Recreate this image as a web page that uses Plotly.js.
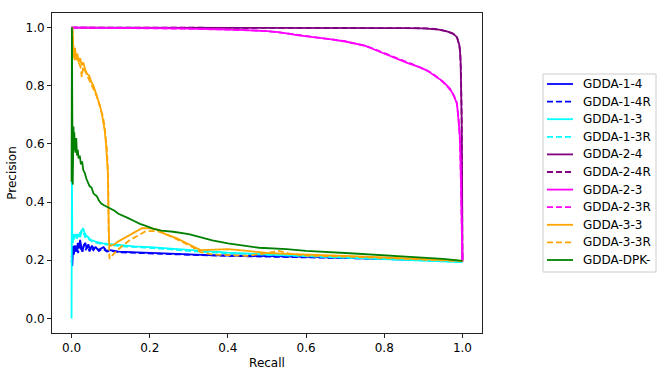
<!DOCTYPE html>
<html>
<head>
<meta charset="utf-8">
<script src="https://cdn.plot.ly/plotly-3.0.1.min.js"></script>
<style>
  body { margin: 0; background: #fff; }
  #plot { width: 665px; height: 378px; }
</style>
</head>
<body>
<div id="plot"></div>
<script>
// Series names, in legend order
const names = ['GDDA-1-4', 'GDDA-1-4R', 'GDDA-1-3', 'GDDA-1-3R', 'GDDA-2-4', 'GDDA-2-4R',
               'GDDA-2-3', 'GDDA-2-3R', 'GDDA-3-3', 'GDDA-3-3R', 'GDDA-DPK-'];

// Recall / precision
const recall14 = [0, 0.002, 0.004, 0.006, 0.008, 0.010, 0.013, 0.016, 0.019, 0.022, 0.025, 0.028, 0.031, 0.035, 0.039, 0.043, 0.047, 0.052, 0.057, 0.062, 0.068, 0.075, 0.082, 0.09, 0.1, 0.12, 0.15, 0.2, 0.25, 0.3, 0.35, 0.4, 0.5, 0.6, 0.7, 0.8, 0.9, 0.95, 1.0];
const prec14 = [0.20, 0.18, 0.25, 0.22, 0.24, 0.25, 0.23, 0.26, 0.24, 0.27, 0.245, 0.23, 0.25, 0.26, 0.24, 0.255, 0.235, 0.25, 0.24, 0.245, 0.235, 0.24, 0.245, 0.232, 0.235, 0.23, 0.228, 0.225, 0.222, 0.22, 0.218, 0.216, 0.214, 0.212, 0.209, 0.206, 0.202, 0.199, 0.196];

const recall14R = [0, 0.003, 0.005, 0.008, 0.011, 0.014, 0.017, 0.020, 0.024, 0.028, 0.032, 0.036, 0.041, 0.046, 0.05, 0.056, 0.062, 0.07, 0.08, 0.09, 0.1, 0.12, 0.15, 0.2, 0.25, 0.3, 0.4, 0.5, 0.6, 0.7, 0.8, 0.9, 1.0];
const prec14R = [0.21, 0.24, 0.22, 0.25, 0.23, 0.245, 0.225, 0.26, 0.24, 0.23, 0.255, 0.235, 0.25, 0.23, 0.245, 0.235, 0.248, 0.232, 0.24, 0.23, 0.233, 0.228, 0.226, 0.223, 0.221, 0.219, 0.215, 0.213, 0.211, 0.208, 0.205, 0.201, 0.196];

const recall13 = [0, 0.001, 0.002, 0.003, 0.005, 0.008, 0.011, 0.014, 0.018, 0.022, 0.026, 0.03, 0.033, 0.037, 0.042, 0.048, 0.055, 0.065, 0.08, 0.1, 0.13, 0.16, 0.2, 0.25, 0.3, 0.35, 0.4, 0.5, 0.6, 0.7, 0.8, 0.9, 1.0];
const prec13 = [0.0, 0.5, 0.26, 0.29, 0.27, 0.29, 0.28, 0.275, 0.29, 0.28, 0.30, 0.31, 0.295, 0.285, 0.28, 0.27, 0.268, 0.262, 0.258, 0.255, 0.25, 0.248, 0.245, 0.24, 0.235, 0.23, 0.226, 0.22, 0.215, 0.21, 0.205, 0.2, 0.194];

const recall13R = [0, 0.002, 0.004, 0.007, 0.01, 0.014, 0.018, 0.022, 0.027, 0.031, 0.035, 0.04, 0.046, 0.053, 0.06, 0.07, 0.085, 0.1, 0.13, 0.17, 0.2, 0.25, 0.3, 0.4, 0.5, 0.6, 0.7, 0.8, 0.9, 1.0];
const prec13R = [0.25, 0.28, 0.26, 0.285, 0.275, 0.29, 0.28, 0.295, 0.305, 0.29, 0.28, 0.285, 0.27, 0.265, 0.262, 0.258, 0.255, 0.252, 0.248, 0.245, 0.243, 0.238, 0.232, 0.224, 0.219, 0.214, 0.209, 0.204, 0.199, 0.194];

const recall24 = [0, 0.1, 0.3, 0.5, 0.7, 0.85, 0.9, 0.92, 0.94, 0.96, 0.975, 0.986, 0.992, 0.995, 0.997, 0.998, 0.999, 0.9995, 1.0];
const prec24 = [1.0, 1.0, 1.0, 1.0, 0.999, 0.998, 0.997, 0.996, 0.993, 0.987, 0.98, 0.967, 0.94, 0.9, 0.8, 0.68, 0.5, 0.3, 0.196];

const recall24R = [0, 0.2, 0.4, 0.6, 0.8, 0.88, 0.91, 0.93, 0.95, 0.965, 0.978, 0.987, 0.993, 0.996, 0.998, 0.999, 1.0];
const prec24R = [1.0, 1.0, 1.0, 0.999, 0.999, 0.998, 0.997, 0.995, 0.99, 0.985, 0.977, 0.963, 0.93, 0.86, 0.7, 0.45, 0.196];

const recall23 = [0, 0.05, 0.1, 0.2, 0.27, 0.35, 0.43, 0.5, 0.53, 0.58, 0.62, 0.66, 0.7, 0.75, 0.79, 0.83, 0.86, 0.89, 0.91, 0.93, 0.95, 0.968, 0.978, 0.986, 0.99, 0.993, 0.995, 0.996, 0.997, 0.998, 1.0];
const prec23 = [1.0, 1.0, 0.999, 0.998, 0.997, 0.995, 0.992, 0.988, 0.984, 0.973, 0.967, 0.96, 0.952, 0.938, 0.916, 0.893, 0.878, 0.864, 0.852, 0.833, 0.815, 0.79, 0.765, 0.738, 0.69, 0.635, 0.55, 0.475, 0.35, 0.25, 0.196];

const recall23R = [0, 0.1, 0.2, 0.3, 0.4, 0.5, 0.55, 0.6, 0.65, 0.7, 0.76, 0.8, 0.84, 0.88, 0.92, 0.94, 0.96, 0.975, 0.985, 0.99, 0.994, 0.996, 0.998, 1.0];
const prec23R = [1.0, 0.999, 0.998, 0.996, 0.993, 0.988, 0.98, 0.97, 0.962, 0.953, 0.934, 0.912, 0.89, 0.87, 0.845, 0.825, 0.8, 0.775, 0.745, 0.69, 0.6, 0.47, 0.3, 0.196];

const recall33 = [0.002, 0.003, 0.005, 0.007, 0.009, 0.012, 0.015, 0.018, 0.022, 0.026, 0.03, 0.035, 0.04, 0.045, 0.05, 0.056, 0.062, 0.068, 0.073, 0.078, 0.082, 0.085, 0.088, 0.091, 0.093, 0.094, 0.095, 0.096, 0.1, 0.11, 0.12, 0.14, 0.16, 0.18, 0.2, 0.22, 0.24, 0.27, 0.3, 0.32, 0.33, 0.35, 0.4, 0.45, 0.5, 0.55, 0.6, 0.7, 0.8, 0.9, 1.0];
const prec33 = [1.0, 0.95, 0.92, 0.9, 0.93, 0.89, 0.91, 0.88, 0.895, 0.87, 0.88, 0.855, 0.84, 0.835, 0.815, 0.8, 0.775, 0.75, 0.73, 0.7, 0.67, 0.645, 0.6, 0.55, 0.5, 0.4, 0.3, 0.257, 0.25, 0.255, 0.265, 0.28, 0.295, 0.31, 0.31, 0.305, 0.29, 0.275, 0.255, 0.24, 0.235, 0.236, 0.238, 0.232, 0.225, 0.222, 0.219, 0.215, 0.21, 0.205, 0.198];

const recall33R = [0.002, 0.004, 0.006, 0.009, 0.012, 0.016, 0.02, 0.024, 0.026, 0.03, 0.035, 0.04, 0.046, 0.052, 0.058, 0.064, 0.07, 0.075, 0.08, 0.084, 0.087, 0.09, 0.092, 0.094, 0.095, 0.097, 0.1, 0.11, 0.13, 0.15, 0.17, 0.19, 0.22, 0.25, 0.28, 0.31, 0.33, 0.36, 0.4, 0.45, 0.5, 0.53, 0.56, 0.6, 0.7, 0.8, 0.9, 1.0];
const prec33R = [1.0, 0.93, 0.9, 0.885, 0.9, 0.88, 0.875, 0.86, 0.83, 0.865, 0.85, 0.835, 0.82, 0.8, 0.785, 0.765, 0.74, 0.72, 0.695, 0.665, 0.635, 0.59, 0.54, 0.45, 0.3, 0.205, 0.21, 0.225, 0.25, 0.27, 0.285, 0.3, 0.3, 0.285, 0.265, 0.245, 0.228, 0.22, 0.218, 0.215, 0.225, 0.232, 0.222, 0.216, 0.213, 0.208, 0.203, 0.197];

const recallDPK = [0, 0.001, 0.002, 0.003, 0.004, 0.005, 0.006, 0.007, 0.008, 0.01, 0.012, 0.014, 0.016, 0.018, 0.021, 0.024, 0.027, 0.03, 0.034, 0.038, 0.042, 0.046, 0.051, 0.056, 0.06, 0.065, 0.07, 0.076, 0.082, 0.09, 0.1, 0.11, 0.12, 0.13, 0.145, 0.16, 0.175, 0.19, 0.21, 0.23, 0.26, 0.3, 0.33, 0.36, 0.4, 0.44, 0.48, 0.55, 0.6, 0.7, 0.8, 0.9, 0.95, 1.0];
const precDPK = [0.47, 1.0, 0.7, 0.46, 0.6, 0.66, 0.58, 0.64, 0.6, 0.57, 0.62, 0.56, 0.58, 0.55, 0.56, 0.53, 0.54, 0.51, 0.5, 0.48, 0.47, 0.455, 0.45, 0.43, 0.425, 0.42, 0.405, 0.395, 0.39, 0.385, 0.378, 0.37, 0.36, 0.353, 0.345, 0.335, 0.325, 0.318, 0.308, 0.302, 0.298, 0.29, 0.28, 0.268, 0.258, 0.25, 0.243, 0.238, 0.232, 0.225, 0.218, 0.21, 0.205, 0.198];

const xs = [recall14, recall14R, recall13, recall13R, recall24, recall24R, recall23, recall23R, recall33, recall33R, recallDPK];
const ys = [prec14, prec14R, prec13, prec13R, prec24, prec24R, prec23, prec23R, prec33, prec33R, precDPK];
const colors = ['#0000ff', '#0000ff', '#00ffff', '#00ffff', '#800080', '#800080',
                '#ff00ff', '#ff00ff', '#ffa500', '#ffa500', '#008000'];
const dashed = [false, true, false, true, false, true, false, true, false, true, false];
const tickVals = [0, 0.2, 0.4, 0.6, 0.8, 1.0];
const tickText = ['0.0', '0.2', '0.4', '0.6', '0.8', '1.0'];

function dashOf(i) {
    return dashed[i] ? '6px,3px' : 'solid';
}

const traces = names.map((n, i) => ({
    x: xs[i],
    y: ys[i],
    name: n,
    type: 'scatter',
    mode: 'lines',
    showlegend: false,
    line: { color: colors[i], width: 1.8, dash: dashOf(i) }
}));

// plot box in pixels (matplotlib-like layout)
const W = 665, H = 378;
const plotL = 52, plotR = 482, plotT = 13, plotB = 333;
const px = v => (v - plotL) / (plotR - plotL);
const py = v => (plotB - v) / (plotB - plotT);

// legend box like matplotlib's, drawn with shapes + annotations
const legL = 543, legR = 656, legT = 74, legB = 272;
const rowTop = 84, rowStep = 17.6;
const shapes = [{
    type: 'rect', xref: 'paper', yref: 'paper',
    x0: px(legL), x1: px(legR), y0: py(legB), y1: py(legT),
    line: { color: '#cccccc', width: 1 }, fillcolor: 'rgba(255,255,255,0.8)'
}];
const annotations = [];
names.forEach((n, i) => {
    const yy = rowTop + i * rowStep;
    shapes.push({
        type: 'line', xref: 'paper', yref: 'paper',
        x0: px(547), x1: px(573), y0: py(yy), y1: py(yy),
        line: { color: colors[i], width: 1.8, dash: dashOf(i) }
    });
    annotations.push({
        xref: 'paper', yref: 'paper', x: px(581), y: py(yy),
        xanchor: 'left', yanchor: 'middle', showarrow: false,
        text: n, font: { family: 'DejaVu Sans', size: 12, color: '#000' }
    });
});

const axisFont = { family: 'DejaVu Sans', size: 12, color: '#000' };

const layout = {
    width: W,
    height: H,
    margin: { l: plotL, r: W - plotR, t: plotT, b: H - plotB },
    paper_bgcolor: '#fff',
    plot_bgcolor: '#fff',
    font: axisFont,
    showlegend: false,
    shapes: shapes,
    annotations: annotations,
    xaxis: {
        range: [-0.05, 1.05],
        tickvals: tickVals,
        ticktext: tickText,
        ticks: 'outside', ticklen: 4, tickcolor: '#222',
        showline: true, linecolor: '#222', linewidth: 1, mirror: true,
        showgrid: false, zeroline: false,
        tickfont: axisFont,
        title: { text: 'Recall', font: axisFont, standoff: 4 }
    },
    yaxis: {
        range: [-0.05, 1.05],
        tickvals: tickVals,
        ticktext: tickText,
        ticks: 'outside', ticklen: 4, tickcolor: '#222',
        showline: true, linecolor: '#222', linewidth: 1, mirror: true,
        showgrid: false, zeroline: false,
        tickfont: axisFont,
        title: { text: 'Precision', font: axisFont, standoff: 6 }
    }
};

Plotly.newPlot('plot', traces, layout, { displayModeBar: false, staticPlot: true });
</script>
</body>
</html>
